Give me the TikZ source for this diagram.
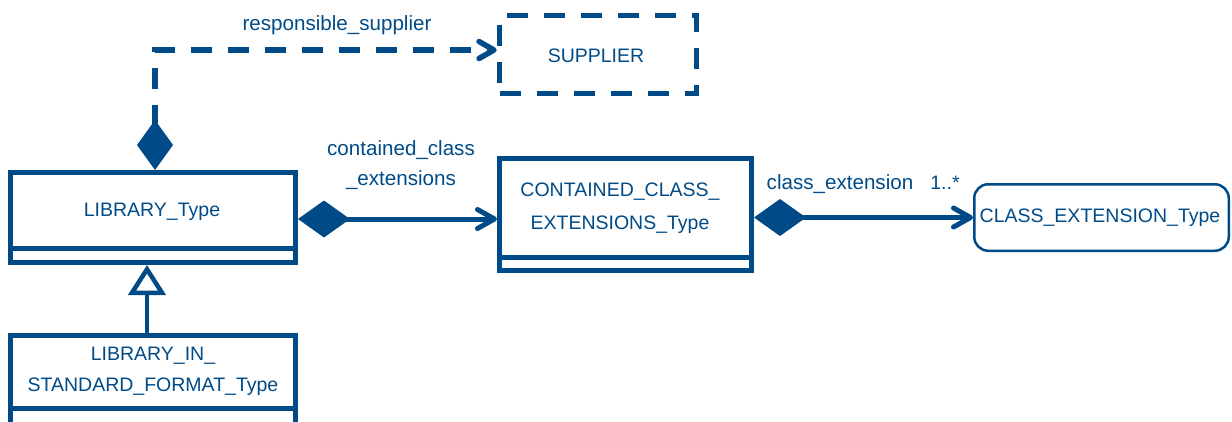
\documentclass[tikz,border=0pt]{standalone}
\usepackage{fontspec}
\setmainfont{Liberation Sans}
\usetikzlibrary{arrows.meta}
\definecolor{umlblue}{RGB}{0,75,135}

\begin{document}
\begin{tikzpicture}[x=1pt,y=-1pt,
  txt/.style={text=umlblue, font=\fontsize{19.5}{23}\selectfont, inner sep=0pt, align=center},
  role/.style={text=umlblue, font=\fontsize{20.6}{24}\selectfont, inner sep=0pt, align=center},
  classbox/.style={draw=umlblue, line width=5pt, fill=white},
  sepline/.style={draw=umlblue, line width=5pt},
  suppbox/.style={draw=umlblue, line width=5.5pt, dash pattern=on 21pt off 16pt},
  typebox/.style={draw=umlblue, line width=2.5pt, rounded corners=14pt},
  complink/.style={draw=umlblue, line width=5pt,
    {Diamond[length=52pt 0 0,width=37pt 0 0,line width=0pt]}-{Straight Barb[length=17pt 0 0,width=19pt 0 0,round]}},
  deplink/.style={draw=umlblue, line width=5.5pt, dash pattern=on 21pt off 16pt,
    {Diamond[length=50pt 0 0,width=36pt 0 0,line width=0pt]}-{Straight Barb[length=15pt 0 0,width=17pt 0 0,round]}},
  genlink/.style={draw=umlblue, line width=4.5pt,
    -{Triangle[open,length=30pt 0 0,width=37pt 0 0]}}]

\clip (0,0) rectangle (1232,421);

% class boxes
\node[classbox, minimum width=285pt, minimum height=90pt] (lib) at (153,217.5) {};
\node[classbox, minimum width=285pt, minimum height=110pt] (lisf) at (153,390.5) {};
\node[classbox, minimum width=252pt, minimum height=112pt] (cce) at (625.5,214.5) {};
\node[suppbox, minimum width=197pt, minimum height=78pt] (sup) at (598,54.5) {};
\node[typebox, minimum width=254.5pt, minimum height=66.5pt] (ce) at (1101.5,217.5) {};

% attribute compartments
\draw[sepline] (lib.west |- 0,248) -- (lib.east |- 0,248);
\draw[sepline] (lisf.west |- 0,408) -- (lisf.east |- 0,408);
\draw[sepline] (cce.west |- 0,257) -- (cce.east |- 0,257);

% class names
\node[txt] (libname) at (152,212) {LIBRARY\_Type};
\node[txt, font=\fontsize{19.5}{31}\selectfont] (lisfname) at (153,371.5) {LIBRARY\_IN\_\\STANDARD\_FORMAT\_Type};
\node[txt, font=\fontsize{19.5}{33}\selectfont] (ccename) at (620,208.5) {CONTAINED\_CLASS\_\\EXTENSIONS\_Type};
\node[txt] (supname) at (596,56) {SUPPLIER};
\node[txt] (cename) at (1100,218) {CLASS\_EXTENSION\_Type};

% associations
\coordinate (gx) at (147,0);
\draw[genlink] (lisf.north -| gx) -- (lib.south -| gx);
\draw[deplink] ([xshift=2pt]lib.north) |- ([yshift=4.5pt]sup.west);
\draw[complink] ([yshift=-1.5pt]lib.east) -- ([yshift=-1.5pt]lib.east -| cce.west);
\draw[complink] (ce.west -| cce.east) -- (ce.west);

% role names and multiplicities
\node[role] (rolesup) at (337,25) {responsible\_supplier};
\node[role, font=\fontsize{20.6}{30}\selectfont] (rolecce) at (401,165) {contained\_class\\\_extensions};
\node[role] (rolece) at (840,184) {class\_extension};
\node[txt] (multce) at (945,183) {1..*};
\end{tikzpicture}
\end{document}
